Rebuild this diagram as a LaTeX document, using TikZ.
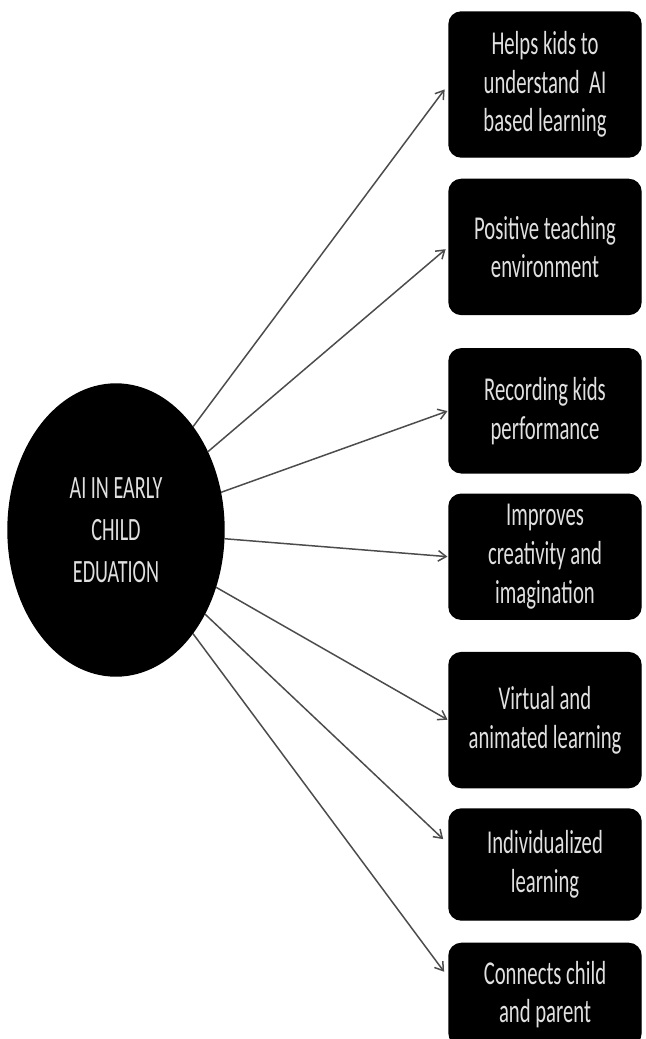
\documentclass[tikz,border=0pt]{standalone}
\usepackage{fontspec}
\setmainfont{Carlito}[FakeStretch=0.62]
\usepackage{tikz}
\usetikzlibrary{arrows.meta, positioning, shapes.geometric}

\begin{document}
\begin{tikzpicture}[>={Straight Barb[length=4.5pt,width=6pt]}, thick,
  benefit/.style={draw, fill=black, rounded corners=7pt, minimum width=3.84cm,
    inner sep=0pt, align=center, text=white!88!black,
    font=\fontsize{19}{22}\selectfont},
  link/.style={->, draw=black!70, line width=0.85pt, shorten >=2pt}]

\useasboundingbox (0,0) rectangle (12.9,-20.78);

% the central topic
\node[draw, fill=black, ellipse, minimum width=4.32cm, minimum height=5.84cm,
  inner sep=0pt, align=center, text=white!88!black,
  font=\fontsize{18.5}{24}\selectfont] (ai) at (2.32,-10.6)
  {AI IN EARLY\\CHILD\\EDUATION};

% benefits, stacked down the right side
\node[benefit, minimum height=2.9cm] (b1) at (10.9,-1.69)
  {Helps kids to\\understand~~AI\\based learning};
\node[benefit, minimum height=2.7cm, below=0.42cm of b1] (b2)
  {Positive teaching\\environment};
\node[benefit, minimum height=2.48cm, below=0.66cm of b2] (b3)
  {Recording kids\\performance};
\node[benefit, minimum height=2.5cm, below=0.4cm of b3] (b4)
  {Improves\\creativity and\\imagination};
\node[benefit, minimum height=2.7cm, below=0.64cm of b4] (b5)
  {Virtual and\\animated learning};
\node[benefit, minimum height=2.22cm, below=0.4cm of b5] (b6)
  {Individualized\\learning};
\node[benefit, minimum height=2.04cm, below=0.44cm of b6] (b7)
  {Connects child\\and parent};

% arrows from the topic to each benefit
\draw[link, shorten >=3.5pt] (ai) -- (b1.west);
\draw[link] (ai) -- (b2.west);
\foreach \b in {b3,b4,b5}
  \draw[link, shorten >=0.5pt] (ai) -- (\b.west);
\draw[link, shorten >=4pt] (ai) -- (b6.168);
\draw[link, shorten >=4pt] (ai) -- (b7.170);

\end{tikzpicture}
\end{document}
